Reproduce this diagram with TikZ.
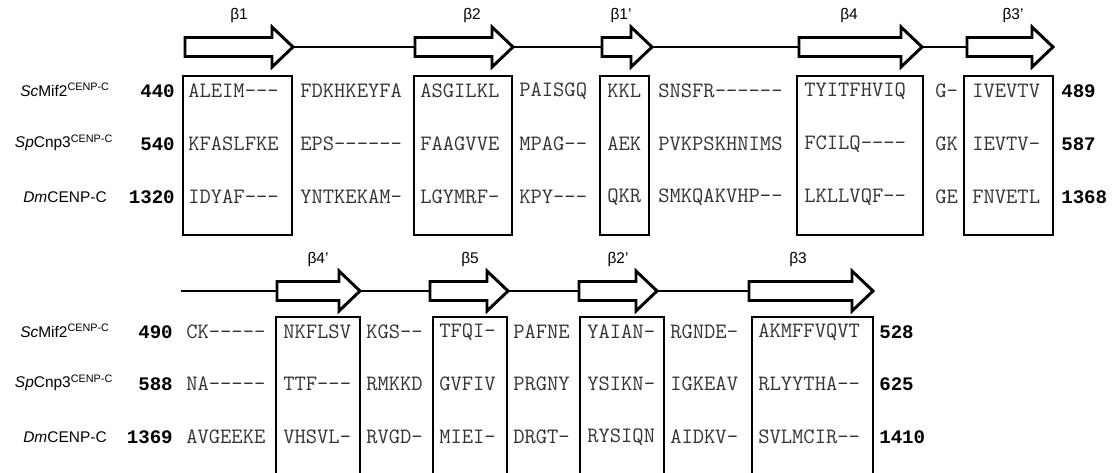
\documentclass[tikz,border=0pt]{standalone}
\usepackage{fontspec}
\setmainfont{Liberation Sans}
\setsansfont{Liberation Sans}
\newfontfamily\numfont{Liberation Mono}
\definecolor{letra}{HTML}{333333}

\newcommand\hebra[3]{%
  \draw[hebra] (#1,#3-9.5) -- (#2-21,#3-9.5) -- (#2-21,#3-20) -- (#2,#3)
    -- (#2-21,#3+20) -- (#2-21,#3+9.5) -- (#1,#3+9.5) -- cycle;}

\begin{document}
\begin{tikzpicture}[x=0.025cm, y=-0.025cm,
    hebra/.style={draw=black, fill=white, line width=2.1pt, line join=miter},
    eje/.style={line width=1.1pt},
    caja/.style={line width=1.4pt},
    beta/.style={font=\fontsize{11}{13}\selectfont},
    especie/.style={font=\fontsize{11}{13}\selectfont},
    seq/.style={anchor=west, inner sep=0pt, text=letra,
      font=\ttfamily\fontsize{15.6}{18}\selectfont},
    num/.style={inner sep=0pt, font=\numfont\bfseries\fontsize{13.6}{16}\selectfont}]
  \useasboundingbox (0,0) rectangle (1113,473);
  % bloque superior
  \draw[eje] (293,47) -- (967,47);
  \hebra{185}{293}{47}
  \hebra{415}{513}{47}
  \hebra{602}{652}{47}
  \hebra{799}{922}{47}
  \hebra{967}{1053}{47}
  \node[beta] (b1)  at (239,16) {β1};
  \node[beta] (b2)  at (472,16) {β2};
  \node[beta] (b1p) at (621,16) {β1'};
  \node[beta] (b4)  at (849,16) {β4};
  \node[beta] (b3p) at (1013,16) {β3'};
  \foreach \xa/\xb in {183/292, 414/512, 600/649, 797/923, 964/1053}
    \draw[caja] (\xa,76) rectangle (\xb,235);
  \node[especie] (sc1) at (65,90)  {\textit{Sc}Mif2\textsuperscript{CENP-C}};
  \node[especie] (sp1) at (64,143) {\textit{Sp}Cnp3\textsuperscript{CENP-C}};
  \node[especie] (dm1) at (65,197) {\textit{Dm}CENP-C};
  \node[num, anchor=east] (ni1) at (175,91)  {440};
  \node[num, anchor=east] (ni2) at (175,144) {540};
  \node[num, anchor=east] (ni3) at (175,197) {1320};
  \node[num, anchor=west] (nf1) at (1061,91)  {489};
  \node[num, anchor=west] (nf2) at (1061,144) {587};
  \node[num, anchor=west] (nf3) at (1061,197) {1368};
  \foreach \x/\s [count=\i] in {188/ALEIM---, 300/FDKHKEYFA, 420/ASGILKL,
      519/PAISGQ, 607/KKL, 658/SNSFR------, 804/TYITFHVIQ, 935/G-, 972/IVEVTV}
    \node[seq] (sa\i) at (\x,91) {\s};
  \foreach \x/\s [count=\i] in {188/KFASLFKE, 300/EPS------, 420/FAAGVVE,
      519/MPAG--, 607/AEK, 658/PVKPSKHNIMS, 804/FCILQ----, 935/GK, 972/IEVTV-}
    \node[seq] (sb\i) at (\x,144) {\s};
  \foreach \x/\s [count=\i] in {188/IDYAF---, 300/YNTKEKAM-, 420/LGYMRF-,
      519/KPY---, 607/QKR, 658/SMKQAKVHP--, 804/LKLLVQF--, 935/GE, 972/FNVETL}
    \node[seq] (sc\i) at (\x,197) {\s};
  % bloque inferior
  \draw[eje] (181,291) -- (749,291);
  \hebra{277}{360}{291}
  \hebra{430}{508}{291}
  \hebra{579}{657}{291}
  \hebra{749}{873}{291}
  \node[beta] (b4p) at (318,259) {β4'};
  \node[beta] (b5)  at (470,259) {β5};
  \node[beta] (b2p) at (618,259) {β2'};
  \node[beta] (b3)  at (798,259) {β3};
  \foreach \xa/\xb in {276/360, 433/507, 580/664, 752/873}
    \draw[caja] (\xa,474) -- (\xa,317) -- (\xb,317) -- (\xb,474);
  \node[especie] (sc2) at (65,331) {\textit{Sc}Mif2\textsuperscript{CENP-C}};
  \node[especie] (sp2) at (64,383) {\textit{Sp}Cnp3\textsuperscript{CENP-C}};
  \node[especie] (dm2) at (65,437) {\textit{Dm}CENP-C};
  \node[num, anchor=east] (ni4) at (173,332) {490};
  \node[num, anchor=east] (ni5) at (173,384) {588};
  \node[num, anchor=east] (ni6) at (173,437) {1369};
  \node[num, anchor=west] (nf4) at (879,332) {528};
  \node[num, anchor=west] (nf5) at (879,384) {625};
  \node[num, anchor=west] (nf6) at (879,437) {1410};
  \foreach \x/\s [count=\i] in {186/CK-----, 283/NKFLSV, 366/KGS--, 439/TFQI-,
      513/PAFNE, 587/YAIAN-, 670/RGNDE-, 758/AKMFFVQVT}
    \node[seq] (sd\i) at (\x,332) {\s};
  \foreach \x/\s [count=\i] in {186/NA-----, 283/TTF---, 366/RMKKD, 439/GVFIV,
      513/PRGNY, 587/YSIKN-, 670/IGKEAV, 758/RLYYTHA--}
    \node[seq] (se\i) at (\x,384) {\s};
  \foreach \x/\s [count=\i] in {186/AVGEEKE, 283/VHSVL-, 366/RVGD-, 439/MIEI-,
      513/DRGT-, 587/RYSIQN, 670/AIDKV-, 758/SVLMCIR--}
    \node[seq] (sf\i) at (\x,437) {\s};
\end{tikzpicture}
\end{document}
